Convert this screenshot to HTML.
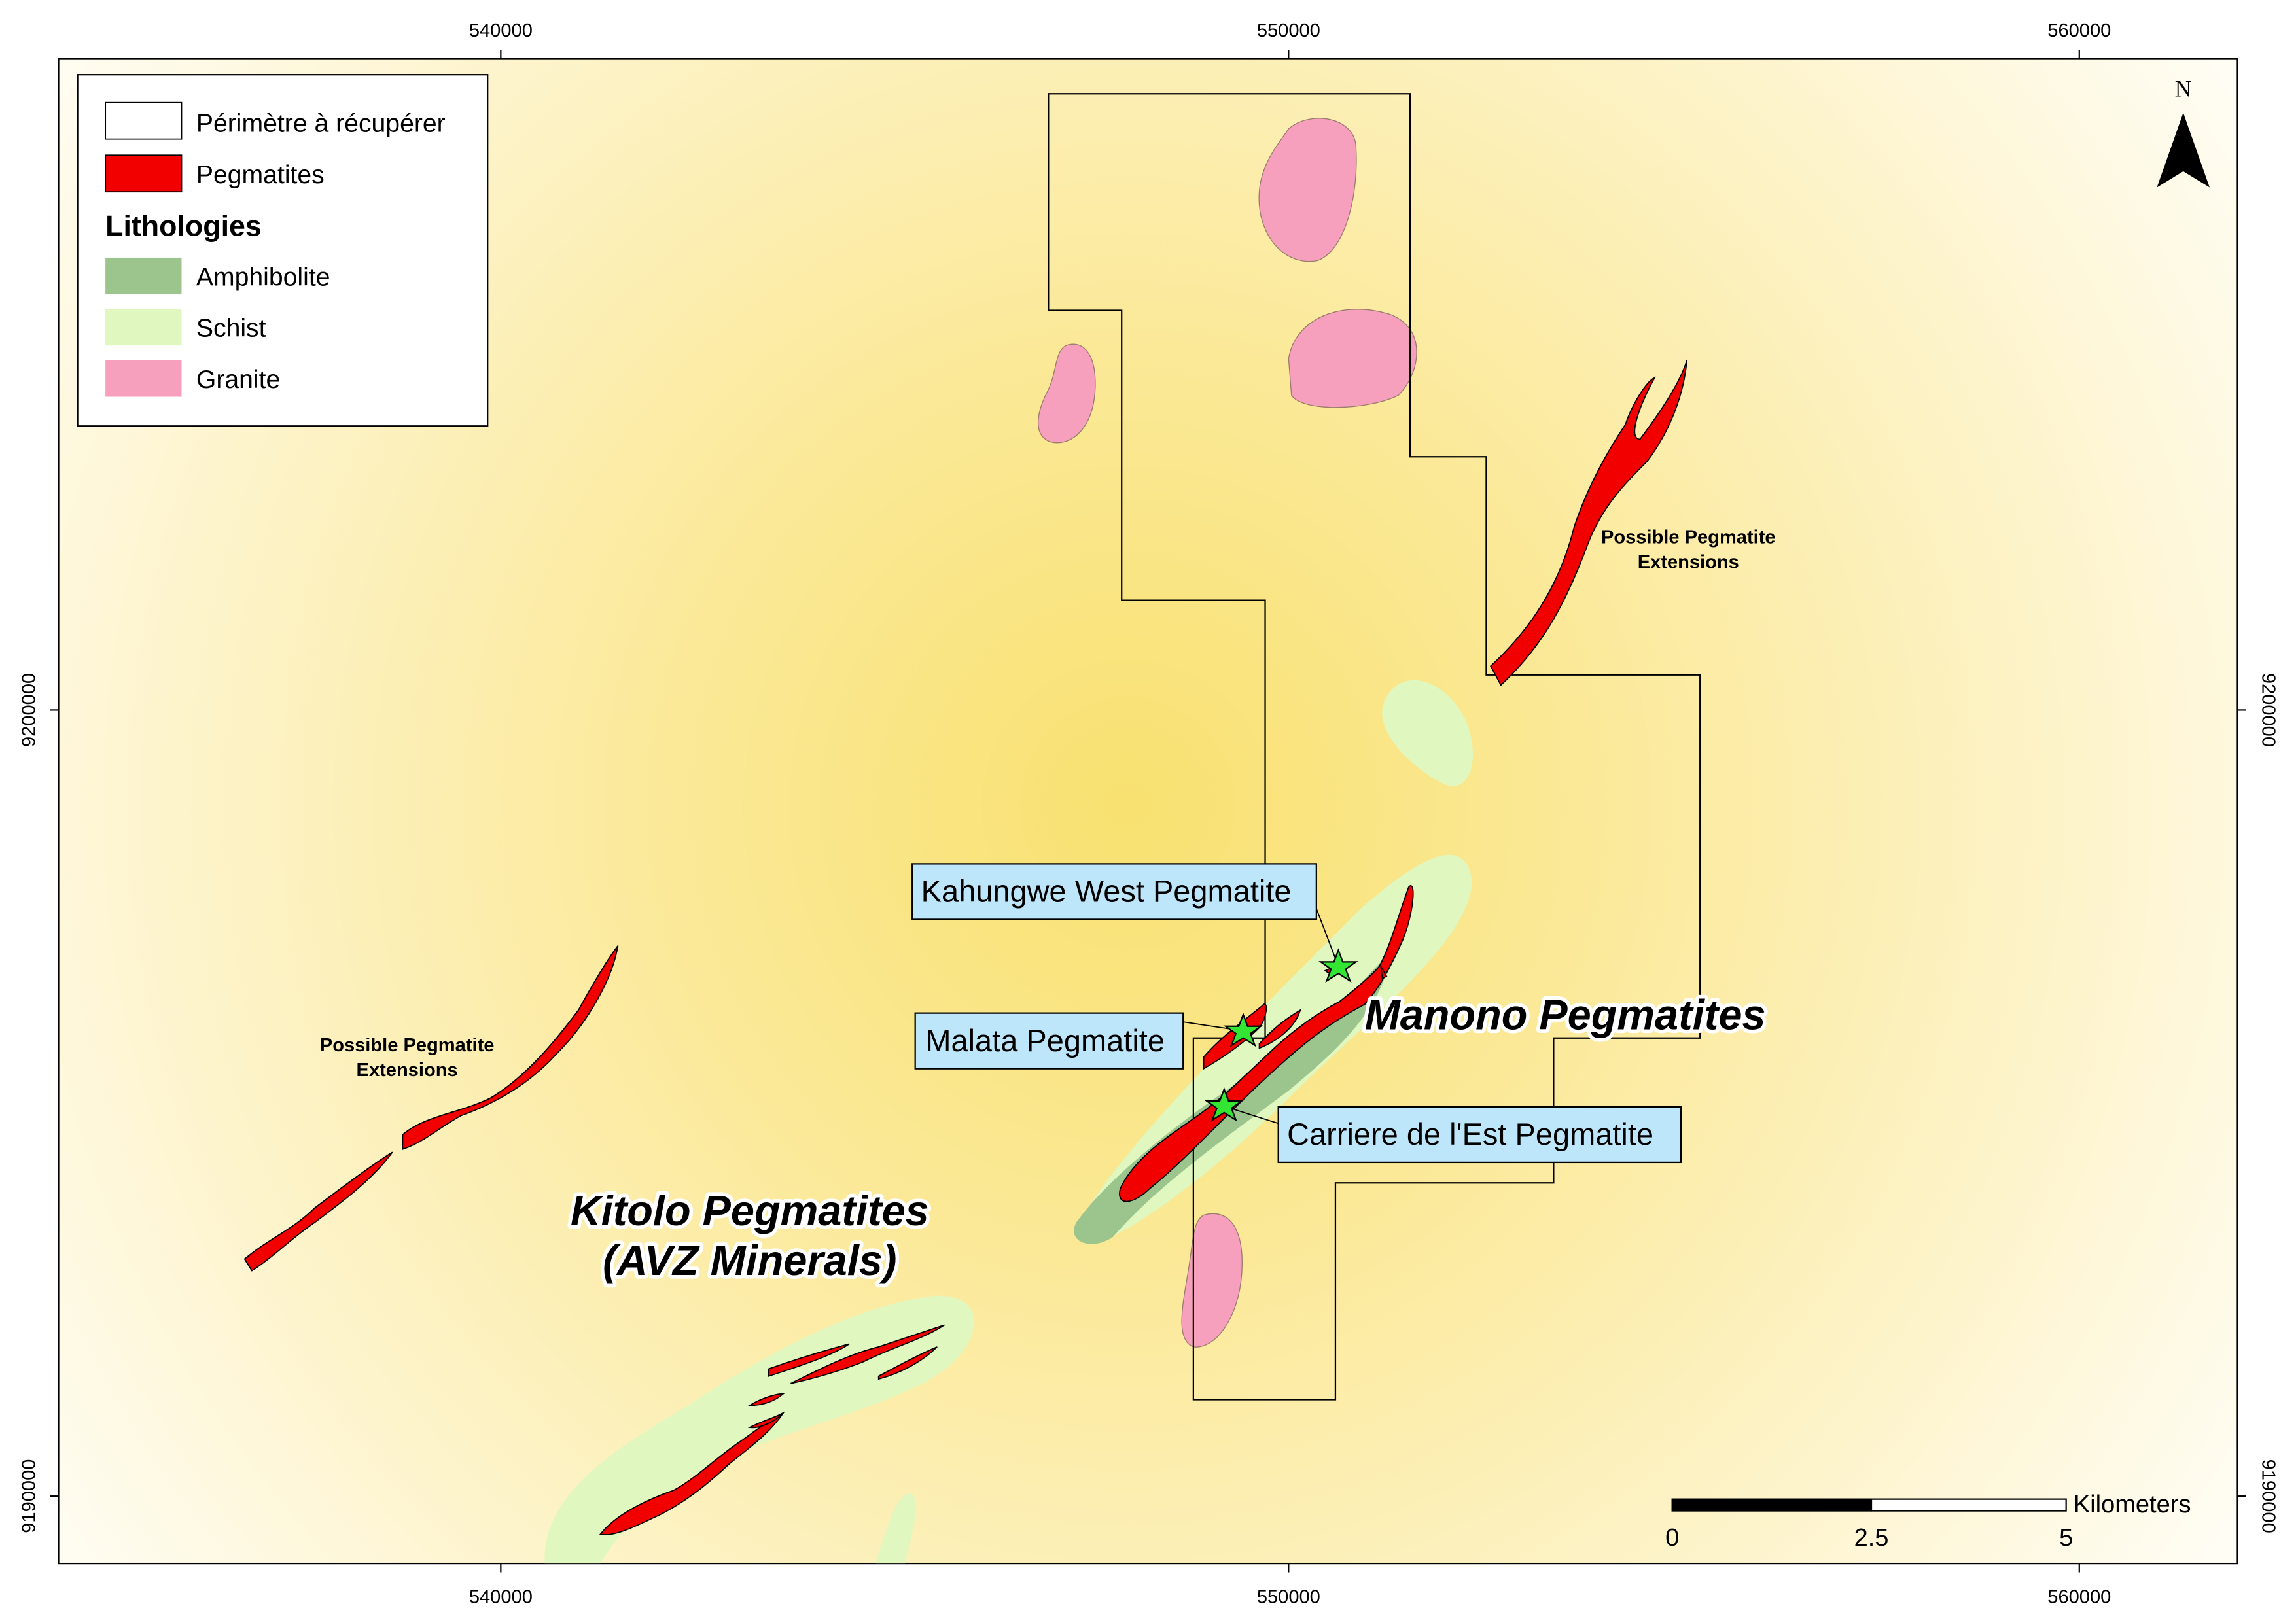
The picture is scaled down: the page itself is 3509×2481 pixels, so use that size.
<!DOCTYPE html>
<html><head><meta charset="utf-8"><style>html,body{margin:0;padding:0;background:#fff}svg{display:block}</style></head>
<body>
<svg xmlns="http://www.w3.org/2000/svg" width="3509" height="2481" viewBox="0 0 1568 1108.6" font-family="Liberation Sans, sans-serif">
<defs>
<radialGradient id="bg" cx="770" cy="550" r="900" gradientUnits="userSpaceOnUse">
<stop offset="0" stop-color="#f8e170"/>
<stop offset="0.35" stop-color="#fbe998"/>
<stop offset="0.7" stop-color="#fdf3c8"/>
<stop offset="1" stop-color="#fffdf4"/>
</radialGradient>
</defs>
<rect width="1568" height="1109" fill="#fff"/>
<rect x="40" y="40" width="1488" height="1028" fill="url(#bg)" stroke="#000" stroke-width="1"/>
<g stroke="#000" stroke-width="1">
<line x1="342" y1="34" x2="342" y2="40"/><line x1="880" y1="34" x2="880" y2="40"/><line x1="1420" y1="34" x2="1420" y2="40"/>
<line x1="342" y1="1068" x2="342" y2="1074"/><line x1="880" y1="1068" x2="880" y2="1074"/><line x1="1420" y1="1068" x2="1420" y2="1074"/>
<line x1="34" y1="485" x2="40" y2="485"/><line x1="34" y1="1022" x2="40" y2="1022"/>
<line x1="1528" y1="485" x2="1534" y2="485"/><line x1="1528" y1="1022" x2="1534" y2="1022"/>
</g>
<g font-size="13" text-anchor="middle" fill="#000">
<text x="342" y="25">540000</text><text x="880" y="25">550000</text><text x="1420" y="25">560000</text>
<text x="342" y="1095">540000</text><text x="880" y="1095">550000</text><text x="1420" y="1095">560000</text>
<text transform="translate(24,485) rotate(-90)">9200000</text>
<text transform="translate(24,1022) rotate(-90)">9190000</text>
<text transform="translate(1545,485) rotate(90)">9200000</text>
<text transform="translate(1545,1022) rotate(90)">9190000</text>
</g>
<g fill="#e0f7bf">
<path d="M945,480 C955,455 985,462 1000,490 C1012,515 1005,545 985,535 C965,525 938,500 945,480Z"/>
<path d="M740,830 C770,780 850,700 930,620 C970,585 1000,570 1005,600 C1008,640 930,700 880,750 C830,800 770,845 745,850Z"/>
<path d="M372,1068 C370,1020 420,990 470,960 C530,920 590,890 640,885 C680,885 670,925 630,945 C580,970 520,980 470,1010 C440,1030 420,1050 410,1068Z"/>
<path d="M598,1068 C605,1045 612,1020 622,1020 C630,1025 622,1050 618,1068Z"/>
</g>
<path d="M735,835 C760,800 820,755 860,730 C900,705 930,670 950,650 C945,690 910,720 880,745 C840,775 790,810 760,845 C745,855 728,848 735,835Z" fill="#9cc58e"/>
<g fill="#f7a0bd" stroke="#9a7c6c" stroke-width="0.6">
<path d="M880,88 C895,75 925,80 926,100 C928,130 920,170 900,178 C880,182 862,165 860,140 C858,115 872,100 880,88Z"/>
<path d="M880,245 C885,215 920,205 950,215 C975,225 970,255 955,270 C935,280 890,282 882,270Z"/>
<path d="M728,236 C740,232 748,242 748,262 C748,292 732,305 718,302 C705,298 708,282 715,268 C722,255 720,240 728,236Z"/>
<path d="M822,830 C840,825 850,840 848,870 C846,900 830,922 815,920 C802,915 808,890 812,865 C815,845 815,834 822,830Z"/>
</g>
<path d="M716,64 L963,64 L963,312 L1015,312 L1015,461 L1161,461 L1161,709 L1061,709 L1061,808 L912,808 L912,956 L815,956 L815,709 L864,709 L864,410 L766,410 L766,212 L716,212Z" fill="none" stroke="#000" stroke-width="1"/>
<g fill="#f20000" stroke="#000" stroke-width="0.8">
<path d="M1018,455 C1045,430 1065,400 1075,360 C1085,330 1100,305 1110,290 C1115,275 1125,260 1130,258 C1118,280 1112,300 1120,300 C1135,280 1148,260 1152,246 C1150,270 1140,295 1125,315 C1110,330 1095,345 1085,370 C1070,410 1055,440 1025,468Z"/>
<path d="M167,860 C185,845 200,840 215,825 C235,810 255,795 268,787 C255,805 235,820 215,835 C200,845 185,860 172,868Z"/>
<path d="M275,775 C290,762 315,760 335,750 C360,735 380,710 395,690 C405,672 415,655 422,646 C418,670 400,700 380,720 C360,742 335,755 315,762 C300,770 290,780 275,785Z"/>
<path d="M765,812 C775,790 800,775 818,762 C835,750 850,735 868,718 C885,702 900,692 915,684 C925,676 935,668 942,660 C950,645 955,625 962,606 C967,600 966,622 958,642 C950,660 942,675 932,686 C915,695 900,705 885,718 C865,735 850,750 835,765 C815,785 800,800 785,812 C775,822 762,825 765,812Z"/>
<path d="M822,722 C835,707 850,697 862,687 C866,682 866,694 860,702 C850,712 836,722 822,730Z"/>
<path d="M860,713 C870,702 878,696 888,690 C885,700 875,710 860,716Z"/>
<path d="M410,1048 C420,1035 440,1025 460,1018 C475,1010 490,995 505,985 C515,978 525,970 535,965 C525,980 510,990 498,1000 C485,1012 470,1025 450,1035 C435,1042 420,1050 410,1048Z"/>
<path d="M512,975 C522,970 530,968 535,965 C528,972 518,976 512,975Z"/>
<path d="M525,935 C545,928 565,922 580,918 C570,925 550,932 525,940Z"/>
<path d="M540,945 C560,935 580,925 600,920 C615,915 630,910 645,905 C630,915 610,920 590,930 C575,936 555,942 540,945Z"/>
<path d="M600,940 C615,932 628,925 640,920 C630,930 615,938 600,942Z"/>
<path d="M512,960 C520,955 530,952 535,952 C528,958 520,960 512,960Z"/>
<path d="M905,663 C912,660 918,658 920,660 C915,665 908,666 905,663Z"/>
<path d="M943,660 L947,667 L944,668Z"/>
</g>
<g stroke="#000" stroke-width="0.8" fill="none">
<path d="M898,618 L914,660"/><path d="M808,698 L848,704"/><path d="M834,755 L875,768"/>
</g>
<g fill="#bee6fb" stroke="#000" stroke-width="1">
<rect x="623" y="590" width="276" height="38"/>
<rect x="625" y="692" width="183" height="38"/>
<rect x="873" y="756" width="275" height="38"/>
</g>
<g font-size="21" fill="#000">
<text x="629" y="616">Kahungwe West Pegmatite</text>
<text x="632" y="718">Malata Pegmatite</text>
<text x="879" y="782">Carriere de l'Est Pegmatite</text>
</g>
<g fill="#33e633" stroke="#000" stroke-width="1">
<polygon points="914,649 917,657 926,657 919,662 922,670 914,665 906,670 909,662 902,657 911,657"/>
<polygon points="849,693 852,701 861,701 854,706 857,714 849,709 841,714 844,706 837,701 846,701"/>
<polygon points="836,744 839,752 848,752 841,757 844,765 836,760 828,765 831,757 824,752 833,752"/>
</g>
<g font-weight="bold" font-style="italic" font-size="29" fill="#000" stroke="#fff" stroke-width="5" paint-order="stroke" stroke-linejoin="round">
<text x="932" y="703">Manono Pegmatites</text>
<text x="512" y="837" text-anchor="middle">Kitolo Pegmatites</text>
<text x="512" y="871" text-anchor="middle">(AVZ Minerals)</text>
</g>
<g font-weight="bold" font-size="13" fill="#000" text-anchor="middle">
<text x="1153" y="371">Possible Pegmatite</text><text x="1153" y="388">Extensions</text>
<text x="278" y="718">Possible Pegmatite</text><text x="278" y="735">Extensions</text>
</g>
<rect x="53" y="51" width="280" height="240" fill="#fff" stroke="#000" stroke-width="1"/>
<rect x="72" y="70" width="52" height="25" fill="#fff" stroke="#000" stroke-width="0.8"/>
<rect x="72" y="106" width="52" height="25" fill="#f20000" stroke="#000" stroke-width="0.8"/>
<rect x="72" y="176" width="52" height="25" fill="#9cc58e"/>
<rect x="72" y="211" width="52" height="25" fill="#e0f7bf"/>
<rect x="72" y="246" width="52" height="25" fill="#f7a0bd"/>
<g font-size="17.5" fill="#000">
<text x="134" y="90">Périmètre à récupérer</text>
<text x="134" y="125">Pegmatites</text>
<text x="72" y="161" font-weight="bold" font-size="20">Lithologies</text>
<text x="134" y="195">Amphibolite</text>
<text x="134" y="230">Schist</text>
<text x="134" y="265">Granite</text>
</g>
<text x="1491" y="66" font-family="Liberation Serif, serif" font-size="16" text-anchor="middle">N</text>
<polygon points="1491,77 1509,128 1491,117 1473,128" fill="#000"/>
<rect x="1142" y="1024" width="136" height="8" fill="#000" stroke="#000"/>
<rect x="1278" y="1024" width="133" height="8" fill="#fff" stroke="#000"/>
<g font-size="17" fill="#000">
<text x="1142" y="1056" text-anchor="middle">0</text>
<text x="1278" y="1056" text-anchor="middle">2.5</text>
<text x="1411" y="1056" text-anchor="middle">5</text>
<text x="1416" y="1033">Kilometers</text>
</g>
</svg>
</body></html>
